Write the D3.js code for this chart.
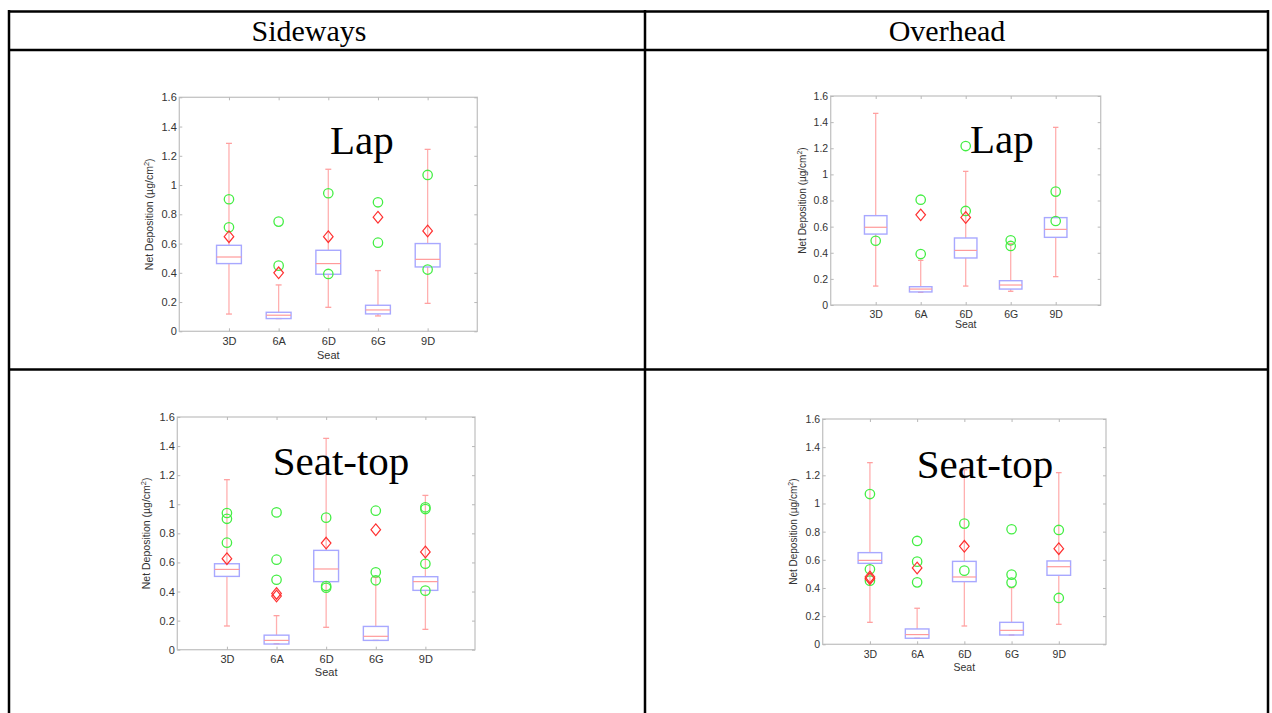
<!DOCTYPE html>
<html>
<head>
<meta charset="utf-8">
<script src="https://cdn.jsdelivr.net/npm/d3@7.9.0/dist/d3.min.js"></script>
<style>
  body { margin: 0; background: #fff; }
  svg { display: block; }
</style>
</head>
<body>
<svg id="fig" width="1272" height="713"></svg>
<script>
const seats = ['3D', '6A', '6D', '6G', '9D'];
const yTicks = [0, 0.2, 0.4, 0.6, 0.8, 1, 1.2, 1.4, 1.6];
const columnTitles = ['Sideways', 'Overhead'];

// Sideways - Lap
const sideLapLow = [0.118, 0.087, 0.164, 0.105, 0.191];
const sideLapQ1 = [0.463, 0.087, 0.39, 0.119, 0.44];
const sideLapMedian = [0.508, 0.11, 0.463, 0.146, 0.492];
const sideLapQ3 = [0.588, 0.13, 0.554, 0.178, 0.6];
const sideLapHigh = [1.285, 0.317, 1.108, 0.415, 1.244];
const sideLapCircles = [[0, 0.903], [0, 0.711], [1, 0.75], [1, 0.449], [2, 0.944], [2, 0.392], [3, 0.882], [3, 0.606], [4, 1.069], [4, 0.422]];
const sideLapDiamonds = [[0, 0.647], [1, 0.40], [2, 0.647], [3, 0.78], [4, 0.686]];

// Overhead - Lap
const overLapLow = [0.145, 0.097, 0.145, 0.105, 0.217];
const overLapQ1 = [0.543, 0.1, 0.36, 0.122, 0.518];
const overLapMedian = [0.595, 0.122, 0.418, 0.153, 0.579];
const overLapQ3 = [0.684, 0.14, 0.513, 0.186, 0.669];
const overLapHigh = [1.467, 0.342, 1.023, 0.47, 1.36];
const overLapCircles = [[0, 0.492], [1, 0.806], [1, 0.39], [2, 1.217], [2, 0.72], [3, 0.495], [3, 0.452], [4, 0.868], [4, 0.643]];
const overLapDiamonds = [[1, 0.69], [2, 0.67]];

// Sideways - Seat-top
const sideTopLow = [0.163, 0.041, 0.154, 0.064, 0.14];
const sideTopQ1 = [0.504, 0.039, 0.468, 0.064, 0.408];
const sideTopMedian = [0.552, 0.064, 0.555, 0.092, 0.468];
const sideTopQ3 = [0.591, 0.1, 0.683, 0.16, 0.502];
const sideTopHigh = [1.169, 0.234, 1.453, 0.497, 1.061];
const sideTopCircles = [[0, 0.94], [0, 0.90], [0, 0.736], [1, 0.944], [1, 0.619], [1, 0.481], [2, 0.908], [2, 0.438], [2, 0.426], [3, 0.956], [3, 0.532], [3, 0.477], [4, 0.979], [4, 0.967], [4, 0.591], [4, 0.406]];
const sideTopDiamonds = [[0, 0.626], [1, 0.387], [1, 0.369], [2, 0.733], [3, 0.825], [4, 0.672]];

// Overhead - Seat-top
const overTopLow = [0.156, 0.043, 0.13, 0.066, 0.142];
const overTopQ1 = [0.575, 0.043, 0.445, 0.066, 0.49];
const overTopMedian = [0.596, 0.069, 0.478, 0.099, 0.551];
const overTopQ3 = [0.651, 0.109, 0.589, 0.156, 0.592];
const overTopHigh = [1.29, 0.256, 1.24, 0.402, 1.219];
const overTopCircles = [[0, 1.067], [0, 0.533], [0, 0.452], [1, 0.734], [1, 0.587], [1, 0.44], [2, 0.857], [2, 0.523], [3, 0.817], [3, 0.495], [3, 0.438], [4, 0.812], [4, 0.329]];
const overTopDiamonds = [[0, 0.478], [0, 0.466], [1, 0.542], [2, 0.696], [4, 0.679]];

const svg = d3.select('#fig');

// table grid
const grid = svg.append('g').attr('stroke', '#000').attr('stroke-width', 2.5);
grid.append('line').attr('x1', 8).attr('x2', 1269).attr('y1', 11.5).attr('y2', 11.5);
grid.append('line').attr('x1', 8).attr('x2', 1269).attr('y1', 50).attr('y2', 50);
grid.append('line').attr('x1', 8).attr('x2', 1269).attr('y1', 369.5).attr('y2', 369.5);
grid.append('line').attr('x1', 9).attr('x2', 9).attr('y1', 10).attr('y2', 713);
grid.append('line').attr('x1', 645).attr('x2', 645).attr('y1', 10).attr('y2', 713);
grid.append('line').attr('x1', 1268).attr('x2', 1268).attr('y1', 10).attr('y2', 713);

svg.selectAll('text.coltitle')
  .data(columnTitles)
  .join('text')
  .attr('class', 'coltitle')
  .attr('x', (d, i) => i === 0 ? 309 : 947)
  .attr('y', 41)
  .attr('text-anchor', 'middle')
  .attr('font-family', 'Liberation Serif, Times New Roman, serif')
  .attr('font-size', 30)
  .text(d => d);

function drawPanel(p) {
  const x = d3.scaleLinear().domain([0, 6]).range([p.left, p.right]);
  const y = d3.scaleLinear().domain([0, 1.6]).range([p.bottom, p.top]);
  const g = svg.append('g');
  const fs = p.fs;

  // axes box
  g.append('rect')
    .attr('x', p.left).attr('y', p.top)
    .attr('width', p.right - p.left).attr('height', p.bottom - p.top)
    .attr('fill', 'none').attr('stroke', '#c4c4c4').attr('stroke-width', 1.3);

  const yAxis = d3.axisLeft(y).tickValues(yTicks).tickSize(-3).tickPadding(2.5).tickFormat(d3.format('~g'));
  const yg = g.append('g').attr('transform', `translate(${p.left},0)`).call(yAxis);
  const yAxisR = d3.axisRight(y).tickValues(yTicks).tickSize(-3).tickFormat('');
  const ygr = g.append('g').attr('transform', `translate(${p.right},0)`).call(yAxisR);
  const xAxis = d3.axisBottom(x).tickValues([1, 2, 3, 4, 5]).tickSize(-3).tickPadding(6).tickFormat(d => seats[d - 1]);
  const xg = g.append('g').attr('transform', `translate(0,${p.bottom})`).call(xAxis);
  const xAxisT = d3.axisTop(x).tickValues([1, 2, 3, 4, 5]).tickSize(-3).tickFormat('');
  const xgt = g.append('g').attr('transform', `translate(0,${p.top})`).call(xAxisT);
  [yg, ygr, xg, xgt].forEach(a => {
    a.select('.domain').remove();
    a.selectAll('line').attr('stroke', '#b8b8b8');
    a.selectAll('text').attr('fill', '#333').attr('font-size', fs).attr('font-family', 'Liberation Sans, Arial, sans-serif');
  });

  g.append('text')
    .attr('x', (p.left + p.right) / 2).attr('y', p.seatY)
    .attr('text-anchor', 'middle').attr('fill', '#333')
    .attr('font-size', fs).attr('font-family', 'Liberation Sans, Arial, sans-serif')
    .text('Seat');

  const yl = g.append('text')
    .attr('transform', `translate(${p.ylabX},${(p.top + p.bottom) / 2}) rotate(-90)`)
    .attr('text-anchor', 'middle').attr('fill', '#333')
    .attr('font-size', fs - 0.5).attr('font-family', 'Liberation Sans, Arial, sans-serif');
  yl.append('tspan').text('Net Deposition (µg/cm');
  yl.append('tspan').attr('dy', -4).attr('font-size', fs - 3.5).text('2');
  yl.append('tspan').attr('dy', 4).text(')');

  const idx = d3.range(seats.length);
  const hw = 0.25, cw = 0.06;

  // whiskers
  g.selectAll('.wlo').data(idx).join('line')
    .attr('x1', i => x(i + 1)).attr('x2', i => x(i + 1))
    .attr('y1', i => y(p.low[i])).attr('y2', i => y(p.q1[i]))
    .attr('stroke', '#ffb0b0').attr('stroke-width', 1.3);
  g.selectAll('.whi').data(idx).join('line')
    .attr('x1', i => x(i + 1)).attr('x2', i => x(i + 1))
    .attr('y1', i => y(p.high[i])).attr('y2', i => y(p.q3[i]))
    .attr('stroke', '#ffb0b0').attr('stroke-width', 1.3);
  [p.low, p.high].forEach(arr => {
    g.selectAll(null).data(idx).join('line')
      .attr('x1', i => x(i + 1 - cw)).attr('x2', i => x(i + 1 + cw))
      .attr('y1', i => y(arr[i])).attr('y2', i => y(arr[i]))
      .attr('stroke', '#ffa0a0').attr('stroke-width', 1.3);
  });

  // boxes
  g.selectAll(null).data(idx).join('rect')
    .attr('x', i => x(i + 1 - hw)).attr('width', i => x(i + 1 + hw) - x(i + 1 - hw))
    .attr('y', i => y(p.q3[i])).attr('height', i => y(p.q1[i]) - y(p.q3[i]))
    .attr('fill', 'none').attr('stroke', '#a8a8ff').attr('stroke-width', 1.4);
  g.selectAll(null).data(idx).join('line')
    .attr('x1', i => x(i + 1 - hw)).attr('x2', i => x(i + 1 + hw))
    .attr('y1', i => y(p.median[i])).attr('y2', i => y(p.median[i]))
    .attr('stroke', '#ff9a9a').attr('stroke-width', 1.2);

  // outliers
  g.selectAll(null).data(p.circles).join('circle')
    .attr('cx', d => x(d[0] + 1)).attr('cy', d => y(d[1])).attr('r', 4.7)
    .attr('fill', 'none').attr('stroke', '#44ee44').attr('stroke-width', 1.3);
  g.selectAll(null).data(p.diamonds).join('path')
    .attr('d', d => {
      const cx = x(d[0] + 1), cy = y(d[1]);
      return `M${cx},${cy - 5.8}L${cx + 4.8},${cy}L${cx},${cy + 5.8}L${cx - 4.8},${cy}Z`;
    })
    .attr('fill', 'none').attr('stroke', '#ff3030').attr('stroke-width', 1.2);

  g.append('text')
    .attr('x', p.titleX).attr('y', p.titleY)
    .attr('font-family', 'Liberation Serif, Times New Roman, serif')
    .attr('font-size', 41).attr('fill', '#000')
    .text(p.title);
}

const panels = [
  { left: 179.3, top: 97.3, right: 477.3, bottom: 331.3, fs: 11, ylabX: 153, seatY: 359,
    title: 'Lap', titleX: 330, titleY: 154,
    low: sideLapLow, q1: sideLapQ1, median: sideLapMedian, q3: sideLapQ3, high: sideLapHigh,
    circles: sideLapCircles, diamonds: sideLapDiamonds },
  { left: 830.7, top: 96, right: 1100.7, bottom: 305, fs: 10.5, ylabX: 806, seatY: 328,
    title: 'Lap', titleX: 970, titleY: 153,
    low: overLapLow, q1: overLapQ1, median: overLapMedian, q3: overLapQ3, high: overLapHigh,
    circles: overLapCircles, diamonds: overLapDiamonds },
  { left: 177.3, top: 417, right: 475, bottom: 649.7, fs: 11, ylabX: 150, seatY: 676,
    title: 'Seat-top', titleX: 272.7, titleY: 475,
    low: sideTopLow, q1: sideTopQ1, median: sideTopMedian, q3: sideTopQ3, high: sideTopHigh,
    circles: sideTopCircles, diamonds: sideTopDiamonds },
  { left: 822.7, top: 419, right: 1106, bottom: 644.3, fs: 10.5, ylabX: 797, seatY: 671,
    title: 'Seat-top', titleX: 916.7, titleY: 478,
    low: overTopLow, q1: overTopQ1, median: overTopMedian, q3: overTopQ3, high: overTopHigh,
    circles: overTopCircles, diamonds: overTopDiamonds }
];

panels.forEach(drawPanel);
</script>
</body>
</html>
